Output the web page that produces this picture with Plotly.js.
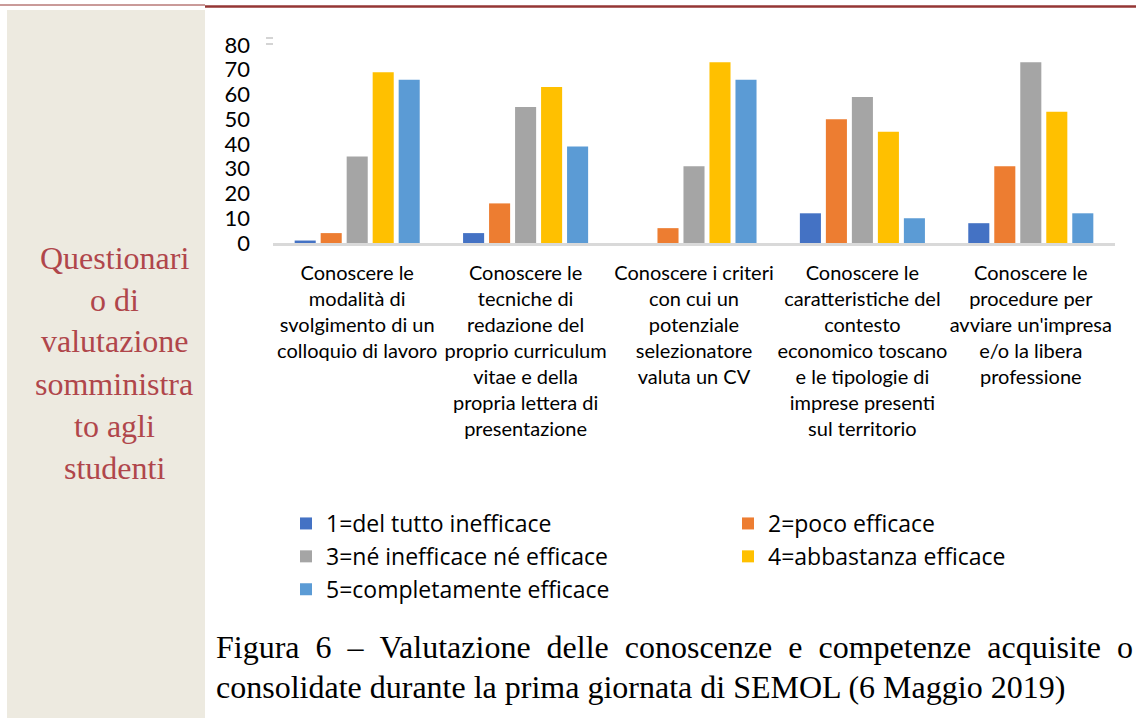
<!DOCTYPE html>
<html>
<head>
<meta charset="utf-8">
<script src="https://cdn.plot.ly/plotly-3.0.1.min.js"></script>
<style>
  html, body { margin: 0; padding: 0; background: #ffffff; }
  #chart { width: 1136px; height: 718px; }
</style>
</head>
<body>
<div id="chart"></div>
<script>
// ---- data ----
const categories = [
  "Conoscere le<br>modalità di<br>svolgimento di un<br>colloquio di lavoro",
  "Conoscere le<br>tecniche di<br>redazione del<br>proprio curriculum<br>vitae e della<br>propria lettera di<br>presentazione",
  "Conoscere i criteri<br>con cui un<br>potenziale<br>selezionatore<br>valuta un CV",
  "Conoscere le<br>caratteristiche del<br>contesto<br>economico toscano<br>e le tipologie di<br>imprese presenti<br>sul territorio",
  "Conoscere le<br>procedure per<br>avviare un'impresa<br>e/o la libera<br>professione"
];
const seriesNames = [
  "1=del tutto inefficace",
  "2=poco efficace",
  "3=né inefficace né efficace",
  "4=abbastanza efficace",
  "5=completamente efficace"
];
const values1 = [1, 4, 0, 12, 8];
const values2 = [4, 16, 6, 50, 31];
const values3 = [35, 55, 31, 59, 73];
const values4 = [69, 63, 73, 45, 53];
const values5 = [66, 39, 66, 10, 12];
const yTicks = [0, 10, 20, 30, 40, 50, 60, 70, 80];
const sidebarLines = ["Questionari", "o di", "valutazione", "somministra", "to agli", "studenti"];
const captionLine1 = ["Figura", "6", "–", "Valutazione", "delle", "conoscenze", "e", "competenze", "acquisite", "o"];
const captionLine2 = "consolidate durante la prima giornata di SEMOL (6 Maggio 2019)";

// ---- styling ----
const colors = ["#4472C4", "#ED7D31", "#A5A5A5", "#FFC000", "#5B9BD5"];
const allValues = [values1, values2, values3, values4, values5];
const legendOf = ["legend", "legend2", "legend", "legend2", "legend"];

const FIG_W = 1136, FIG_H = 718;
const L = 273, R = 21, T = 45, B = 475;
const PW = FIG_W - L - R, PH = FIG_H - T - B;
const X = px => (px - L) / PW;
const Y = py => (T + PH - py) / PH;

const sansFont = "Lato, 'Open Sans', sans-serif";
const legendFamily = "'Open Sans', Lato, sans-serif";
const serifFont = "'Liberation Serif', 'Times New Roman', serif";

const traces = allValues.map((vals, i) => ({
  type: "bar",
  name: seriesNames[i],
  x: categories,
  y: vals,
  marker: { color: colors[i], line: { width: 0 } },
  legend: legendOf[i],
  hoverinfo: "none"
}));

const annotations = [];
// sidebar text
const sideY = [258, 299.5, 341, 384, 426, 468];
sidebarLines.forEach((t, i) => {
  annotations.push({
    xref: "paper", yref: "paper",
    x: X(114), y: Y(sideY[i]),
    xanchor: "center", yanchor: "middle",
    text: t, showarrow: false,
    font: { family: serifFont, size: 32, color: "#B0464B" }
  });
});
// caption (line 1 justified with extra spacing)
annotations.push({
  xref: "paper", yref: "paper",
  x: X(214), y: Y(647),
  xanchor: "left", yanchor: "middle",
  text: captionLine1.join(" \u00a0"),
  showarrow: false,
  font: { family: serifFont, size: 32, color: "#000000" }
});
annotations.push({
  xref: "paper", yref: "paper",
  x: X(214), y: Y(687),
  xanchor: "left", yanchor: "middle",
  text: captionLine2,
  showarrow: false,
  font: { family: serifFont, size: 32, color: "#000000" }
});

const shapes = [
  // sidebar background
  { type: "rect", xref: "paper", yref: "paper", layer: "below",
    x0: X(7), x1: X(205), y0: Y(718), y1: Y(10),
    fillcolor: "#EDEAE0", line: { width: 0 } },
  // top rule
  { type: "line", xref: "paper", yref: "paper",
    x0: X(205), x1: X(1136), y0: Y(6.5), y1: Y(6.5),
    line: { color: "#943634", width: 2.5 } },
  { type: "line", xref: "paper", yref: "paper",
    x0: X(0), x1: X(205), y0: Y(5), y1: Y(5),
    line: { color: "#943634", width: 1 } },
  // tiny legend-key remnant at top left of plot
  { type: "line", xref: "paper", yref: "paper",
    x0: X(266), x1: X(273), y0: Y(38), y1: Y(38),
    line: { color: "#d4d4d4", width: 2 } },
  { type: "line", xref: "paper", yref: "paper",
    x0: X(266), x1: X(273), y0: Y(44), y1: Y(44),
    line: { color: "#d4d4d4", width: 2 } }
];

const legendFont = { family: legendFamily, size: 23, color: "#000000" };

const layout = {
  width: FIG_W, height: FIG_H,
  margin: { l: L, r: R, t: T, b: B, pad: 0, autoexpand: false },
  paper_bgcolor: "#ffffff",
  plot_bgcolor: "rgba(0,0,0,0)",
  barmode: "group",
  bargap: 0.228,
  bargroupgap: 0.19,
  showlegend: true,
  xaxis: {
    type: "category",
    showline: true, linecolor: "#D9D9D9", linewidth: 2.5,
    showgrid: false, zeroline: false,
    ticks: "", tickangle: 0,
    ticklabelstandoff: 10,
    tickfont: { family: sansFont, size: 20, color: "#000000" },
    automargin: false
  },
  yaxis: {
    range: [0, 80],
    tickmode: "array", tickvals: yTicks, ticktext: yTicks.map(String),
    showline: false, showgrid: false, zeroline: false,
    ticks: "", ticklabelstandoff: 22,
    tickfont: { family: sansFont, size: 22, color: "#000000" },
    automargin: false
  },
  legend: {
    xref: "container", yref: "container",
    x: 286 / FIG_W, y: 1 - 502 / FIG_H,
    xanchor: "left", yanchor: "top",
    orientation: "v", traceorder: "normal",
    bgcolor: "rgba(0,0,0,0)", borderwidth: 0,
    font: legendFont
  },
  legend2: {
    xref: "container", yref: "container",
    x: 728 / FIG_W, y: 1 - 502 / FIG_H,
    xanchor: "left", yanchor: "top",
    orientation: "v", traceorder: "normal",
    bgcolor: "rgba(0,0,0,0)", borderwidth: 0,
    font: legendFont
  },
  shapes: shapes,
  annotations: annotations
};

Plotly.newPlot("chart", traces, layout, { staticPlot: true, displayModeBar: false });
</script>
</body>
</html>
